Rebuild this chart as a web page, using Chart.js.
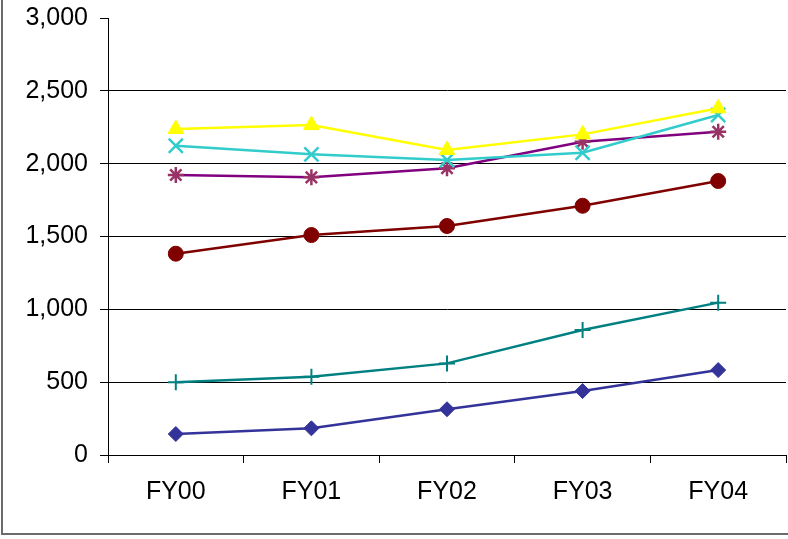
<!DOCTYPE html>
<html>
<head>
<meta charset="utf-8">
<script src="https://cdn.jsdelivr.net/npm/chart.js@4/dist/chart.umd.min.js"></script>
<style>
  html, body { margin: 0; padding: 0; background: #fff; }
  #wrap { width: 788px; height: 539px; position: relative; }
</style>
</head>
<body>
<div id="wrap"><canvas id="chart" width="788" height="539"></canvas></div>
<script>
// categories and series
const years = ['FY00', 'FY01', 'FY02', 'FY03', 'FY04'];
const yTicks = [0, 500, 1000, 1500, 2000, 2500, 3000];

const seriesBlue = [144, 183, 314, 439, 583];
const seriesTeal = [499, 538, 629, 858, 1046];
const seriesRed = [1382, 1510, 1572, 1711, 1881];
const seriesPurple = [1922, 1906, 1968, 2151, 2219];
const seriesCyan = [2123, 2064, 2025, 2075, 2334];
const seriesYellow = [2238, 2265, 2094, 2201, 2380];

const FONT = { family: '"Liberation Sans", Arial, sans-serif', size: 25 };

function line(data, lineColor, markColor, style, radius, markWidth) {
    return {
        data: data,
        borderColor: lineColor,
        backgroundColor: markColor,
        borderWidth: 2.5,
        pointStyle: style,
        pointRadius: radius,
        pointHoverRadius: radius,
        pointBackgroundColor: markColor,
        pointBorderColor: markColor,
        pointBorderWidth: markWidth,
        tension: 0,
        fill: false,
    };
}

// drop the extra room chart.js keeps for the end labels
function noLabelPadding(axis) {
    axis.paddingTop = 0;
    axis.paddingBottom = 0;
    axis.paddingLeft = 0;
    axis.paddingRight = 0;
}

// chart area frame (left + bottom edges visible in the picture)
const frame = {
    id: 'frame',
    beforeDraw(chart) {
        const c = chart.ctx;
        c.save();
        c.strokeStyle = '#6b6b6b';
        c.lineWidth = 2;
        c.beginPath();
        c.moveTo(2, 0);
        c.lineTo(2, 534);
        c.lineTo(788, 534);
        c.stroke();
        c.restore();
    },
};

const ctx = document.getElementById('chart').getContext('2d');
new Chart(ctx, {
    type: 'line',
    data: {
        labels: years,
        datasets: [
            line(seriesYellow, '#FFFF00', '#FFFF00', 'triangle', 9, 1),
            line(seriesCyan, '#33CCCC', '#33CCCC', 'crossRot', 10, 2.5),
            line(seriesPurple, '#800080', '#993366', 'star', 8, 2.5),
            line(seriesRed, '#800000', '#800000', 'circle', 7.5, 1),
            line(seriesTeal, '#008080', '#008080', 'cross', 8, 2),
            line(seriesBlue, '#333399', '#333399', 'rectRot', 7.5, 1),
        ],
    },
    options: {
        responsive: false,
        animation: false,
        devicePixelRatio: 1,
        layout: { autoPadding: false, padding: { top: 18, right: 2, left: 0, bottom: 0 } },
        plugins: {
            legend: { display: false },
            title: { display: false },
            tooltip: { enabled: false },
        },
        scales: {
            x: {
                offset: true,
                grid: {
                    offset: true,
                    drawOnChartArea: false,
                    tickLength: 8,
                    tickColor: '#000',
                },
                border: { display: true, color: '#000', width: 1 },
                ticks: { color: '#000', font: FONT, padding: 14, maxRotation: 0 },
                afterFit: (axis) => { axis.height = 84; noLabelPadding(axis); },
            },
            y: {
                min: yTicks[0],
                max: yTicks[yTicks.length - 1],
                afterBuildTicks: (axis) => { axis.ticks = yTicks.map((v) => ({ value: v })); },
                grid: {
                    color: (c) => (c.tick && c.tick.value === 3000 ? 'rgba(0,0,0,0)' : '#000'),
                    lineWidth: 1,
                    tickLength: 8,
                    tickColor: '#000',
                },
                border: { display: true, color: '#000', width: 1 },
                ticks: {
                    color: '#000',
                    font: FONT,
                    padding: 12,
                    callback: (v) => v.toLocaleString('en-US'),
                },
                afterFit: (axis) => { axis.width = 108; noLabelPadding(axis); },
            },
        },
    },
    plugins: [frame],
});
</script>
</body>
</html>
